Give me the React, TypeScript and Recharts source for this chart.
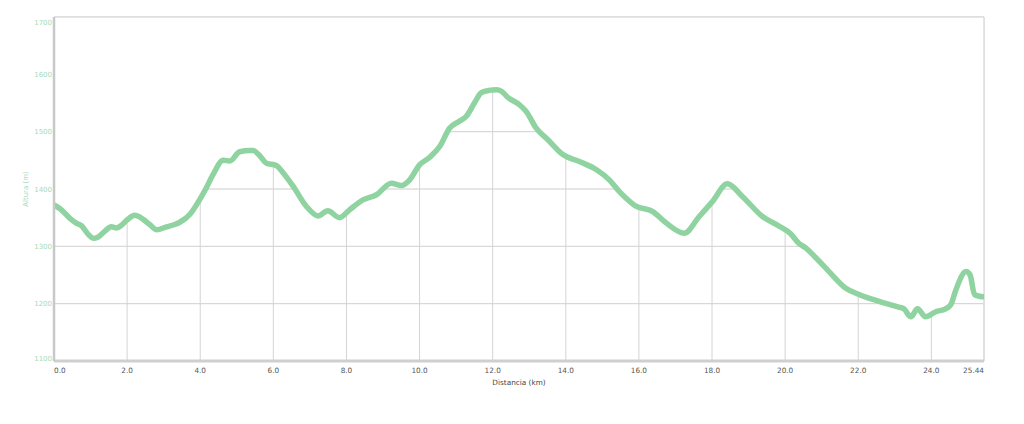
import React from 'react';
import { ComposedChart, Line, Area, XAxis, YAxis, CartesianGrid, ReferenceLine, Label } from 'recharts';

const distanceKm = [
  0.0, 0.16, 0.45, 0.6, 0.75, 0.95, 1.07, 1.2, 1.4, 1.57, 1.71, 1.85, 2.0, 2.21, 2.44, 2.62, 2.81, 3.08, 3.3, 3.44,
  3.72, 3.99, 4.15, 4.35, 4.63, 4.81, 5.08, 5.36, 5.45, 5.6, 5.81, 6.08, 6.27, 6.54, 6.9, 7.22, 7.49, 7.81, 8.09,
  8.45, 8.82, 9.23, 9.5, 9.73, 10.0, 10.27, 10.55, 10.82, 11.09, 11.28, 11.5, 11.69, 11.9, 12.1, 12.25, 12.41,
  12.73, 12.92, 13.19, 13.51, 13.92, 14.37, 14.83, 15.19, 15.46, 15.65, 15.92, 16.37, 16.74, 17.24, 17.65, 18.01,
  18.42, 18.83, 19.38, 19.84, 20.15, 20.38, 20.57, 20.84, 21.2, 21.66, 22.02, 22.57, 23.11, 23.25, 23.44, 23.62,
  23.84, 24.12, 24.39, 24.53, 24.67, 24.95, 25.06, 25.18, 25.31, 25.44,
];

const altitudeM = [
  1372, 1366, 1348, 1341, 1336, 1320, 1314, 1316, 1327, 1334, 1332, 1337, 1346, 1354, 1347, 1338, 1329, 1334, 1338, 1342,
  1356, 1382, 1400, 1425, 1450, 1449, 1465, 1467, 1467, 1460, 1445, 1441, 1428, 1405, 1370, 1353, 1362, 1350, 1364,
  1381, 1390, 1410, 1406, 1416, 1442, 1455, 1474, 1506, 1518, 1527, 1550, 1568, 1572, 1573, 1570, 1560,
  1547, 1535, 1506, 1486, 1460, 1448, 1434, 1416, 1396, 1384, 1370, 1361, 1341, 1323, 1352, 1378,
  1409, 1387, 1352, 1335, 1322, 1305, 1297, 1280, 1256, 1227, 1216, 1204, 1194, 1191, 1177, 1191,
  1177, 1186, 1191, 1198, 1224, 1256, 1250, 1216, 1213, 1212,
];

const xTicks = [0, 2, 4, 6, 8, 10, 12, 14, 16, 18, 20, 22, 24, 25.44];
const xTickLabels = ['0.0', '2.0', '4.0', '6.0', '8.0', '10.0', '12.0', '14.0', '16.0', '18.0', '20.0', '22.0', '24.0', '25.44'];
const yTicks = [1100, 1200, 1300, 1400, 1500, 1600, 1700];
const yTickLabels = ['1100', '1200', '1300', '1400', '1500', '1600', '1700'];

const xTitle = 'Distancia (km)';
const yTitle = 'Altura (m)';

const data = distanceKm.map((km, i) => ({ km, alt: altitudeM[i] }));

const FONT = "'DejaVu Sans', Verdana, sans-serif";
const LINE_COLOR = '#8fd3a1';
const Y_TEXT = '#a8dab6';

const XTick = (props: any) => {
  const { x, y, payload } = props;
  const idx = xTicks.indexOf(payload.value);
  const anchor = idx === 0 ? 'start' : idx === xTicks.length - 1 ? 'end' : 'middle';
  return (
    <text x={x} y={y + 8} textAnchor={anchor} fontFamily={FONT} fontSize={7.3} fill="#555">
      {xTickLabels[idx]}
    </text>
  );
};

const YTick = (props: any) => {
  const { x, y, payload } = props;
  const idx = yTicks.indexOf(payload.value);
  const shift = idx === yTicks.length - 1 ? 5 : idx === 0 ? -3 : 0;
  return (
    <text x={x} y={y + shift + 2.5} textAnchor="end" fontFamily={FONT} fontSize={7} fill={Y_TEXT}>
      {yTickLabels[idx]}
    </text>
  );
};

const renderXTitle = (props: any) => {
  const vb = props.viewBox || {};
  return (
    <text x={vb.x + vb.width / 2} y={vb.y + 24} textAnchor="middle" fontFamily={FONT} fontSize={7.3} fill="#444">
      {xTitle}
    </text>
  );
};

const renderYTitle = (props: any) => {
  const vb = props.viewBox || {};
  const cx = 20;
  const cy = vb.y + vb.height / 2;
  return (
    <text x={cx} y={cy} transform={`rotate(-90 ${cx} ${cy})`} textAnchor="middle" fontFamily={FONT} fontSize={7} fill={Y_TEXT}>
      {yTitle}
    </text>
  );
};

export default function App() {
  return (
    <div style={{ width: 1008, height: 408 }}>
      <ComposedChart width={1008} height={408} data={data} margin={{ top: 9, right: 32, bottom: 0, left: 0 }}>
        <CartesianGrid stroke="#d4d4d4" strokeWidth={1} />
        <Area
          type="monotone"
          dataKey="alt"
          baseValue="dataMax"
          stroke="none"
          fill="#ffffff"
          fillOpacity={1}
          isAnimationActive={false}
        />
        <CartesianGrid stroke="#d4d4d4" strokeOpacity={0.25} vertical={false} />
        <ReferenceLine x={25.44} stroke="#dddddd" strokeWidth={1.5} />
        <ReferenceLine y={1700} stroke="#dddddd" strokeWidth={1.5} />
        <Line
          type="monotone"
          dataKey="alt"
          stroke={LINE_COLOR}
          strokeWidth={5.5}
          dot={false}
          strokeLinejoin="round"
          strokeLinecap="round"
          isAnimationActive={false}
        />
        <XAxis
          dataKey="km"
          type="number"
          domain={[0, 25.44]}
          ticks={xTicks}
          interval={0}
          height={55}
          tickSize={0}
          tickMargin={4}
          tickLine={false}
          axisLine={{ stroke: '#cfcfcf', strokeWidth: 3 }}
          tick={<XTick />}
          allowDataOverflow
        >
          <Label content={renderXTitle} />
        </XAxis>
        <YAxis
          type="number"
          domain={[1100, 1700]}
          ticks={yTicks}
          interval={0}
          width={46}
          tickSize={0}
          tickMargin={2}
          tickLine={false}
          axisLine={{ stroke: '#c8c8c8', strokeWidth: 2.5 }}
          tick={<YTick />}
          allowDataOverflow
        >
          <Label content={renderYTitle} />
        </YAxis>
      </ComposedChart>
    </div>
  );
}
